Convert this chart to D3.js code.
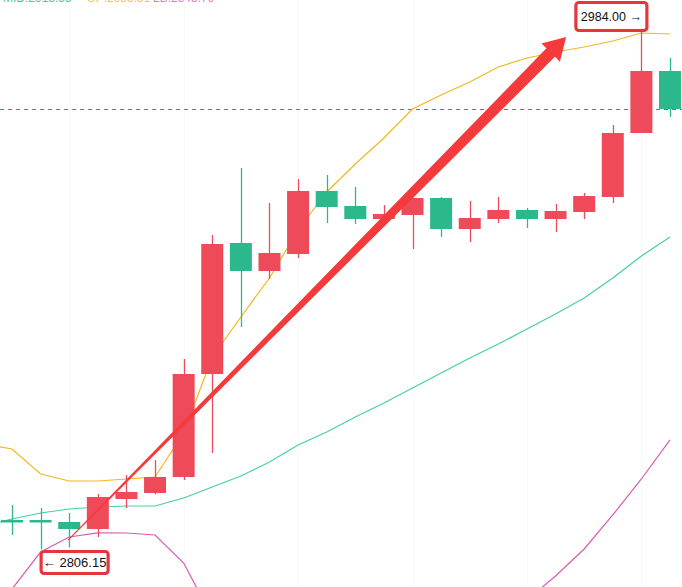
<!DOCTYPE html>
<html>
<head>
<meta charset="utf-8">
<script src="https://cdn.jsdelivr.net/npm/d3@7/dist/d3.min.js"></script>
<style>
html,body{margin:0;padding:0;background:#fff;}
svg{display:block;}
</style>
</head>
<body>
<svg id="chart" width="682" height="587"></svg>
<script>
// ---- data ----
const candleIndex = d3.range(0, 24);
const opens  = [2816.29,2816.29,2815.60,2813.20,2823.51,2825.57,2831.07,2866.46,2911.49,2901.86,2907.71,2929.36,2924.20,2919.73,2921.11,2926.95,2916.30,2919.73,2922.83,2919.73,2922.14,2927.30,2949.29,2970.60];
const highs  = [2821.44,2820.41,2818.69,2825.22,2831.75,2836.91,2871.62,2914.23,2937.26,2925.23,2933.48,2934.86,2930.73,2924.54,2927.10,2927.29,2925.92,2927.29,2923.51,2924.89,2928.67,2952.04,2984.00,2975.06];
const lows   = [2811.13,2806.15,2806.90,2810.45,2820.41,2825.20,2830.04,2839.31,2882.62,2899.11,2906.33,2918.36,2918.02,2919.05,2909.42,2913.55,2911.83,2918.36,2916.64,2915.27,2919.73,2925.23,2949.29,2954.79];
const closes = [2815.60,2815.60,2813.20,2824.19,2825.91,2831.07,2866.46,2911.14,2901.86,2908.05,2929.36,2923.86,2919.73,2921.45,2926.95,2916.30,2920.08,2922.83,2919.73,2922.48,2927.64,2949.29,2970.60,2957.54];
// Bollinger bands; first value belongs to the bar before the first visible candle
const bandIndex = d3.range(-1, 24);
const bandUpper = [2842.41,2840.69,2832.10,2829.69,2829.69,2830.38,2831.07,2846.19,2872.31,2886.05,2899.46,2915.95,2929.01,2938.64,2947.57,2957.54,2962.35,2966.82,2971.97,2975.06,2977.13,2978.84,2980.91,2983.66,2983.31];
const bandMid   = [2814.23,2816.63,2818.69,2820.07,2820.76,2821.10,2821.10,2823.85,2827.63,2831.41,2836.22,2842.06,2846.53,2851.69,2856.50,2861.65,2866.81,2871.96,2876.77,2881.93,2887.09,2892.58,2899.46,2907.02,2913.55];
const bandLower = [2786.05,2792.57,2805.28,2810.45,2811.83,2811.82,2811.13,2801.51,2782.95,2776.77,2772.98,2768.17,2764.05,2764.74,2765.43,2765.76,2771.27,2777.10,2781.57,2788.80,2797.05,2806.32,2818.01,2830.38,2843.79];
const legendLabels = ["MID:2913.55", "UP:2983.31", "LB:2843.79"];
// annotation arrow: [candle index, price]
const arrowFrom = [1.96, 2809.4];
const arrowTo   = [19.37, 2982.3];

// ---- drawing ----
const W = 682, H = 587;
const RED = "#ee4a59", GREEN = "#2bb88d";
const svg = d3.select("#chart");
svg.append("defs").append("clipPath").attr("id","clip")
  .append("rect").attr("x",0).attr("y",0).attr("width",W).attr("height",H);
const g = svg.append("g").attr("clip-path","url(#clip)");

const x = d3.scaleLinear().domain([0, 23]).range([12, 670]);
const y = d3.scaleLinear().domain([2806.15, 2984.00]).range([549.5, 32]);
const bodyW = 22;

// faint vertical grid every 4 bars
const gridIdx = [2,6,10,14,18,22];
g.append("g").selectAll("line").data(gridIdx).join("line")
  .attr("x1", d => Math.round(x(d))+0.5).attr("x2", d => Math.round(x(d))+0.5)
  .attr("y1", 0).attr("y2", H)
  .attr("stroke", "#f9f9f9").attr("stroke-width", 1);

// current price dashed line
const last = closes[closes.length-1];
g.append("line").attr("x1",0).attr("x2",W)
  .attr("y1", Math.round(y(last))+0.5).attr("y2", Math.round(y(last))+0.5)
  .attr("stroke","#1f9e8a").attr("stroke-width",1).attr("stroke-dasharray","4,4");

// bands
const bandLine = arr => d3.line().x((d,i) => x(bandIndex[i])).y(d => y(d))(arr);
[[bandUpper,"#f4b71c"],[bandMid,"#45cfa6"],[bandLower,"#d95bb5"]].forEach(([arr,col]) => {
  g.append("path").attr("d", bandLine(arr)).attr("fill","none")
    .attr("stroke", col).attr("stroke-width", 1.2);
});

// candles
const candles = candleIndex.map(i => ({i, o:opens[i], h:highs[i], l:lows[i], c:closes[i]}));
const cg = g.append("g");
candles.forEach(d => {
  const col = d.c >= d.o ? RED : GREEN;
  const cx = Math.round(x(d.i)) + 0.5;
  cg.append("line").attr("x1",cx).attr("x2",cx)
    .attr("y1", y(d.h)).attr("y2", y(d.l)).attr("stroke", col).attr("stroke-width",1.3);
  const top = y(Math.max(d.o,d.c)), bot = y(Math.min(d.o,d.c));
  cg.append("rect").attr("x", x(d.i) - bodyW/2).attr("width", bodyW)
    .attr("y", top).attr("height", Math.max(2.5, bot-top)).attr("fill", col);
});

// arrow annotation
(function(){
  const S = [x(arrowFrom[0]), y(arrowFrom[1])];
  const T = [x(arrowTo[0]), y(arrowTo[1])];
  const dx = T[0]-S[0], dy = T[1]-S[1], len = Math.hypot(dx,dy);
  const u = [dx/len, dy/len], n = [-u[1], u[0]];
  const L = 22, hw = 13, w0 = 0.5, w1 = 6;
  const B = [T[0]-u[0]*L, T[1]-u[1]*L];
  const P = (p, k) => [p[0]+n[0]*k, p[1]+n[1]*k];
  const pts = [P(S,w0), P(B,w1), P(B,hw), T, P(B,-hw), P(B,-w1), P(S,-w0)];
  g.append("path").attr("d", d3.line()(pts) + "Z").attr("fill", "#f43a3b");
})();

// high / low labels
const hiIdx = d3.maxIndex(highs), loIdx = d3.minIndex(lows);
function label(text, bx, by, bw, bh, fs) {
  g.append("rect").attr("x", bx).attr("y", by).attr("width", bw).attr("height", bh)
    .attr("rx", 3).attr("fill", "#fff").attr("stroke", "#e8353b").attr("stroke-width", 3.2);
  g.append("text").attr("x", bx + bw/2).attr("y", by + bh/2).attr("dy", "0.36em")
    .attr("text-anchor","middle").attr("font-family","Arial, 'Liberation Sans', sans-serif")
    .attr("font-size", fs).attr("fill","#111").text(text);
}
label(highs[hiIdx].toFixed(2) + " \u2192", x(hiIdx) - 65.5, 2.5, 71, 28, 12.5);
label("\u2190 " + lows[loIdx].toFixed(2), x(loIdx) + 0.5, 551.5, 67, 22, 13);

// legend (cut off at the top edge, as in the source screenshot)
const legendX = [3, 87, 153], legendCol = ["#2bb88d", "#f4b71c", "#d95bb5"];
legendLabels.forEach((t,k) => {
  g.append("text").attr("x", legendX[k]).attr("y", 1.8)
    .attr("font-family","Arial, 'Liberation Sans', sans-serif").attr("font-size", 12)
    .attr("fill", legendCol[k]).attr("opacity", 0.8).text(t);
});
</script>
</body>
</html>
